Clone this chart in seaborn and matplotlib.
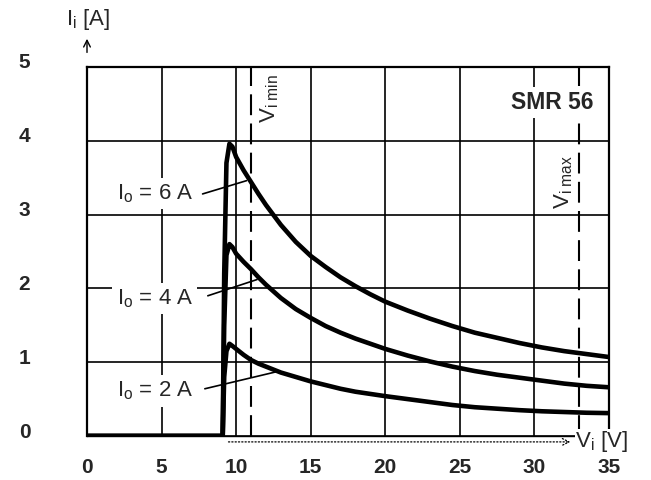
import matplotlib
matplotlib.use("Agg")
import matplotlib.pyplot as plt
import matplotlib.transforms as mtransforms
import seaborn as sns
import pandas as pd

# ---- data ----
v_pts = [0, 9.1, 9.2, 9.35, 9.55, 9.75, 10, 10.5, 11, 11.5, 12, 13, 14, 15, 16, 17, 18, 19, 20,
         21.5, 23, 24.5, 26, 27.5, 29, 30.5, 32, 33.5, 35]
i_6a = [0, 0, 2.2, 3.7, 3.96, 3.92, 3.78, 3.6, 3.44, 3.28, 3.13, 2.86, 2.63, 2.44, 2.29, 2.15, 2.03, 1.92, 1.82,
        1.7, 1.59, 1.49, 1.4, 1.33, 1.26, 1.2, 1.15, 1.11, 1.07]
i_4a = [0, 0, 1.5, 2.45, 2.6, 2.56, 2.47, 2.36, 2.26, 2.15, 2.05, 1.87, 1.72, 1.6, 1.49, 1.4, 1.32, 1.25, 1.18,
        1.09, 1.01, 0.94, 0.88, 0.83, 0.79, 0.75, 0.71, 0.68, 0.66]
i_2a = [0, 0, 0.8, 1.15, 1.25, 1.22, 1.18, 1.1, 1.03, 0.98, 0.94, 0.86, 0.8, 0.74, 0.69, 0.64, 0.6, 0.57, 0.54,
        0.5, 0.46, 0.42, 0.39, 0.37, 0.35, 0.335, 0.325, 0.315, 0.31]

series_names = ["I$_\\mathrm{o}$ = 6 A", "I$_\\mathrm{o}$ = 4 A", "I$_\\mathrm{o}$ = 2 A"]
x_ticks = [0, 5, 10, 15, 20, 25, 30, 35]
y_ticks = [0, 1, 2, 3, 4, 5]
vi_min = 11
vi_max = 33

frames = []
for name, ii in zip(series_names, [i_6a, i_4a, i_2a]):
    frames.append(pd.DataFrame({"V": v_pts, "I": ii, "series": name}))
df = pd.concat(frames, ignore_index=True)

# ---- style ----
sns.set_theme(style="white")
plt.rcParams["font.family"] = ["Liberation Sans", "DejaVu Sans"]
plt.rcParams["mathtext.fontset"] = "custom"
plt.rcParams["mathtext.rm"] = "Liberation Sans"
plt.rcParams["mathtext.it"] = "Liberation Sans"

fig = plt.figure(figsize=(6.51, 4.80), dpi=100)
ax = fig.add_axes([87 / 651, 1 - 436 / 480, (609 - 87) / 651, (436 - 67) / 480])

sns.lineplot(data=df, x="V", y="I", hue="series", units="series", estimator=None,
             sort=False, palette=["black"] * 3, linewidth=3.3, legend=False, ax=ax,
             zorder=5)
for ln in ax.lines:
    ln.set_solid_joinstyle("round")

ax.set_xlim(0, 35)
ax.set_ylim(0, 5)
ax.set_xticks(x_ticks)
ax.set_yticks(y_ticks)
ax.set_xticklabels([str(t) for t in x_ticks], fontsize=15, fontweight="bold")
ax.set_yticklabels([str(t) for t in y_ticks], fontsize=15, fontweight="bold")
ax.tick_params(axis="x", length=0, pad=16)
ax.tick_params(axis="y", length=0, pad=45)
for lab in ax.get_yticklabels():
    lab.set_horizontalalignment("center")
    lab.set_transform(lab.get_transform() + mtransforms.ScaledTranslation(0, 6 / 100, fig.dpi_scale_trans))
ax.set_xlabel("")
ax.set_ylabel("")
ax.grid(True, color="black", linewidth=1.2)
ax.set_axisbelow(True)
for s in ax.spines.values():
    s.set_color("black")
    s.set_linewidth(1.6)
ax.spines["bottom"].set_linewidth(1.0)

# dashed limit lines
for xv in (vi_min, vi_max):
    ax.axvline(xv, color="black", linewidth=1.5, linestyle=(0, (10, 4)), zorder=3)

# annotations with leaders
labels_pos = [(4.55, 3.28, 7.75, 3.28, 10.7, 3.46),
              (4.55, 1.86, 8.1, 1.9, 11.4, 2.12),
              (4.55, 0.61, 7.9, 0.64, 12.9, 0.88)]
for name, (tx, ty, x0, y0, x1, y1) in zip(series_names, labels_pos):
    ax.text(tx, ty, name, fontsize=16, ha="center", va="center", zorder=6,
            bbox=dict(facecolor="white", edgecolor="none", pad=3))
    ax.plot([x0, x1], [y0, y1], color="black", linewidth=1.2, zorder=6)

ax.text(12.25, 4.57, "V$_\\mathrm{i\\ min}$", rotation=90, fontsize=16,
        ha="center", va="center", zorder=6)
ax.text(31.95, 3.44, "V$_\\mathrm{i\\ max}$", rotation=90, fontsize=16,
        ha="center", va="center", zorder=6,
        bbox=dict(facecolor="white", edgecolor="none", pad=1))
ax.text(31.2, 4.52, "SMR 56", fontsize=16.5, fontweight="bold", ha="center",
        va="center", zorder=6, bbox=dict(facecolor="white", edgecolor="none", pad=3))

# axis arrows and titles
ax.annotate("", xy=(32.6, -0.08), xytext=(9.3, -0.08), xycoords="data",
            arrowprops=dict(arrowstyle="->", color="black", lw=0.9, linestyle=":"),
            annotation_clip=False)
ax.text(32.75, -0.08, "V$_\\mathrm{i}$ [V]", fontsize=16, ha="left", va="center",
        clip_on=False, zorder=7, bbox=dict(facecolor="white", edgecolor="none", pad=0.5))
ax.annotate("", xy=(0.0, 5.42), xytext=(0.0, 5.16), xycoords="data",
            arrowprops=dict(arrowstyle="->", color="black", lw=1.0),
            annotation_clip=False)
fig.text(88 / 651, 1 - 20 / 480, "I$_\\mathrm{i}$ [A]", fontsize=16, ha="center", va="center")

fig.savefig("out.png", dpi=100, facecolor="white")
